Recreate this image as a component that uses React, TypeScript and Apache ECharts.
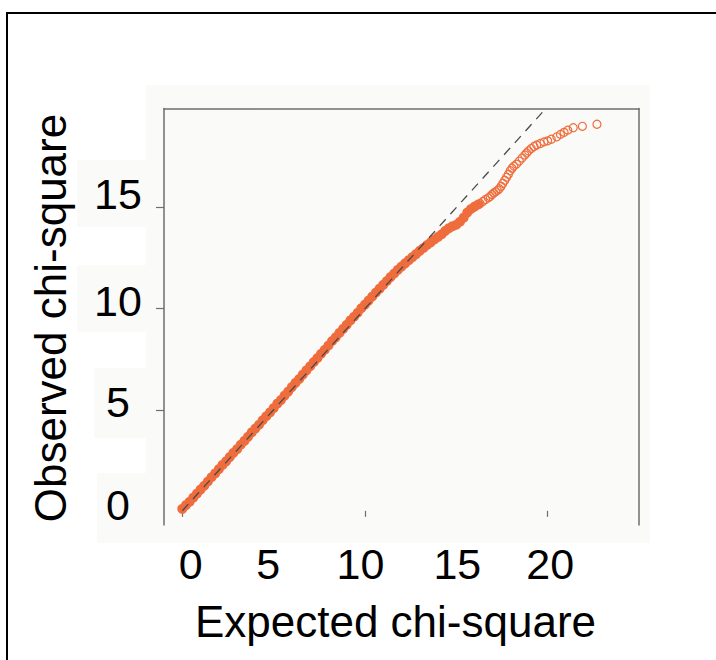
import { useEffect, useRef } from "react";
import * as echarts from "echarts";

const xLabelValues = [0, 5, 10, 15, 20];
const xTickValues = [0, 10, 20];
const yLabelValues = [0, 5, 10, 15];
const yTickValues = [5, 10, 15];

const denseExpected = [
  0, 0.2, 0.4, 0.6, 0.8, 1.0, 1.2, 1.4, 1.6, 1.8,
  2.0, 2.2, 2.4, 2.6, 2.8, 3.0, 3.2, 3.4, 3.6, 3.8,
  4.0, 4.2, 4.4, 4.6, 4.8, 5.0, 5.2, 5.4, 5.6, 5.8,
  6.0, 6.2, 6.4, 6.6, 6.8, 7.0, 7.2, 7.4, 7.6, 7.8,
  8.0, 8.2, 8.4, 8.6, 8.8, 9.0, 9.2, 9.4, 9.6, 9.8,
  10.0, 10.2, 10.4, 10.6, 10.8, 11.0, 11.2, 11.4, 11.6, 11.8,
  12.0, 12.2, 12.4, 12.6, 12.8, 13.0, 13.2, 13.4, 13.6, 13.8,
  14.0, 14.2, 14.4, 14.6, 14.8, 15.0, 15.2, 15.4, 15.6, 15.8,
  16.0, 16.2,
];
const denseObserved = [
  0.1, 0.28, 0.45, 0.65, 0.85, 1.05, 1.24, 1.45, 1.66, 1.85,
  2.06, 2.27, 2.45, 2.66, 2.87, 3.05, 3.27, 3.46, 3.66, 3.88,
  4.07, 4.26, 4.48, 4.68, 4.87, 5.08, 5.3, 5.48, 5.7, 5.9,
  6.12, 6.33, 6.52, 6.74, 6.95, 7.15, 7.36, 7.56, 7.77, 7.97,
  8.18, 8.4, 8.58, 8.8, 9.0, 9.2, 9.42, 9.6, 9.8, 10.02,
  10.2, 10.4, 10.6, 10.8, 10.99, 11.18, 11.37, 11.56, 11.74, 11.92,
  12.08, 12.24, 12.4, 12.55, 12.7, 12.86, 13.0, 13.15, 13.28, 13.42,
  13.55, 13.68, 13.85, 13.98, 14.08, 14.15, 14.3, 14.5, 14.75, 14.93,
  15.05, 15.15,
];
const tailExpected = [
  16.3, 16.45, 16.6, 16.75, 16.85, 16.95, 17.05, 17.15,
  17.25, 17.35, 17.45, 17.55, 17.65, 17.75, 17.85, 17.95, 18.05, 18.15,
  18.3, 18.45, 18.6, 18.75, 18.85, 18.95, 19.1, 19.25, 19.4, 19.6,
  19.8, 20.0, 20.2, 20.5, 20.7, 20.9, 21.1, 21.4, 21.9, 22.7,
];
const tailObserved = [
  15.2, 15.3, 15.4, 15.48, 15.55, 15.65, 15.72, 15.78,
  15.85, 15.93, 16.05, 16.2, 16.35, 16.5, 16.65, 16.82, 16.95, 17.05,
  17.15, 17.3, 17.45, 17.6, 17.7, 17.8, 17.92, 18.02, 18.1, 18.17,
  18.25, 18.3, 18.38, 18.5, 18.62, 18.72, 18.83, 18.95, 19.02, 19.12,
];
const refExpected = [0, 19.9];
const refObserved = [0, 19.9];

const FONT = '"Liberation Sans", Arial, Helvetica, sans-serif';
const ORANGE = "#ef6d3d";
const AXIS_GRAY = "#6e6e6e";

const zip = (a: number[], b: number[]) => a.map((v, i) => [v, b[i]]);

const xShift: Record<number, number[]> = {
  0: [0, 0, 0, 17],
  5: [0, 11, 0, 0],
  10: [0, 9, 0, 0],
  15: [0, 0, 0, 2],
  20: [0, 0, 0, 5],
};
const yShift: Record<number, number[]> = {
  0: [0, 0, 12, 0],
  5: [0, 0, 15, 0],
  10: [0, 0, 15, 0],
  15: [0, 0, 28, 0],
};

function richFor(shifts: Record<number, number[]>, prefix: string) {
  const r: Record<string, any> = {};
  Object.keys(shifts).forEach((k) => {
    r[prefix + k] = {
      fontSize: 43,
      fontFamily: FONT,
      color: "#000",
      padding: shifts[Number(k)],
    };
  });
  return r;
}

export default function App() {
  const ref = useRef<HTMLDivElement>(null);
  useEffect(() => {
    if (!ref.current) return;
    const chart = echarts.init(ref.current, undefined, { renderer: "svg" });
    chart.setOption({
      animation: false,
      backgroundColor: "#ffffff",
      grid: { left: 164, right: 77, top: 108.5, bottom: 135 },
      graphic: [
        {
          type: "rect",
          z: -10,
          shape: { x: 146, y: 85, width: 504, height: 458 },
          style: { fill: "#fafaf8" },
        },
        { type: "rect", z: -10, shape: { x: 77, y: 160, width: 69, height: 67 }, style: { fill: "#fafaf8" } },
        { type: "rect", z: -10, shape: { x: 77, y: 265, width: 69, height: 67 }, style: { fill: "#fafaf8" } },
        { type: "rect", z: -10, shape: { x: 94, y: 368, width: 52, height: 70 }, style: { fill: "#fafaf8" } },
        { type: "rect", z: -10, shape: { x: 97, y: 473, width: 49, height: 70 }, style: { fill: "#fafaf8" } },
        {
          type: "rect",
          z: 10,
          shape: { x: 7, y: 13, width: 760, height: 700 },
          style: { fill: "none", stroke: "#000", lineWidth: 2 },
        },
        {
          type: "text",
          x: 395.5,
          y: 621,
          style: {
            text: "Expected chi-square",
            fontSize: 44,
            fontFamily: FONT,
            fill: "#000",
            align: "center",
            verticalAlign: "middle",
          },
        },
        {
          type: "text",
          x: 50,
          y: 318,
          rotation: Math.PI / 2,
          style: {
            text: "Observed chi-square",
            fontSize: 44,
            fontFamily: FONT,
            fill: "#000",
            align: "center",
            verticalAlign: "middle",
          },
        },
      ],
      xAxis: [
        {
          type: "value",
          min: -1,
          max: 25,
          position: "bottom",
          offset: 2,
          splitLine: { show: false },
          axisLine: { show: false },
          axisTick: {
            show: true,
            length: 6,
            customValues: xTickValues,
            lineStyle: { color: AXIS_GRAY, width: 1.2 },
          },
          axisLabel: {
            show: true,
            customValues: xLabelValues,
            margin: 15,
            fontSize: 43,
            fontFamily: FONT,
            color: "#000",
            formatter: (v: number) => `{x${v}|${v}}`,
            rich: richFor(xShift, "x"),
          },
        },
        {
          type: "value",
          min: -1,
          max: 25,
          position: "top",
          splitLine: { show: false },
          axisLine: { show: true, onZero: false, lineStyle: { color: AXIS_GRAY, width: 1.5 } },
          axisTick: { show: false },
          axisLabel: { show: false },
        },
      ],
      yAxis: [
        {
          type: "value",
          min: -0.7,
          max: 19.9,
          position: "left",
          splitLine: { show: false },
          axisLine: { show: true, onZero: false, lineStyle: { color: AXIS_GRAY, width: 1.5 } },
          axisTick: {
            show: true,
            length: 8,
            customValues: yTickValues,
            lineStyle: { color: AXIS_GRAY, width: 1.2 },
          },
          axisLabel: {
            show: true,
            customValues: yLabelValues,
            align: "center",
            margin: 46,
            fontSize: 43,
            fontFamily: FONT,
            color: "#000",
            formatter: (v: number) => `{y${v}|${v}}`,
            rich: richFor(yShift, "y"),
          },
        },
        {
          type: "value",
          min: -0.7,
          max: 19.9,
          position: "right",
          splitLine: { show: false },
          axisLine: { show: true, onZero: false, lineStyle: { color: AXIS_GRAY, width: 1.5 } },
          axisTick: { show: false },
          axisLabel: { show: false },
        },
      ],
      series: [
        {
          type: "scatter",
          name: "dense",
          data: zip(denseExpected, denseObserved),
          symbol: "circle",
          symbolSize: 10,
          itemStyle: { color: ORANGE, opacity: 1 },
          silent: true,
          z: 2,
        },
        {
          type: "scatter",
          name: "tail",
          data: zip(tailExpected, tailObserved),
          symbol: "circle",
          symbolSize: 8,
          itemStyle: {
            color: "rgba(0,0,0,0)",
            borderColor: ORANGE,
            borderWidth: 1.2,
            opacity: 1,
          },
          silent: true,
          z: 3,
        },
        {
          type: "line",
          name: "reference",
          data: zip(refExpected, refObserved),
          showSymbol: false,
          symbol: "none",
          lineStyle: { color: "#4a4a4a", width: 1.3, type: [9, 7] },
          silent: true,
          z: 5,
        },
      ],
    });
    return () => chart.dispose();
  }, []);
  return (
    <div
      ref={ref}
      style={{ position: "fixed", left: 0, top: 0, width: 716, height: 660 }}
    />
  );
}
